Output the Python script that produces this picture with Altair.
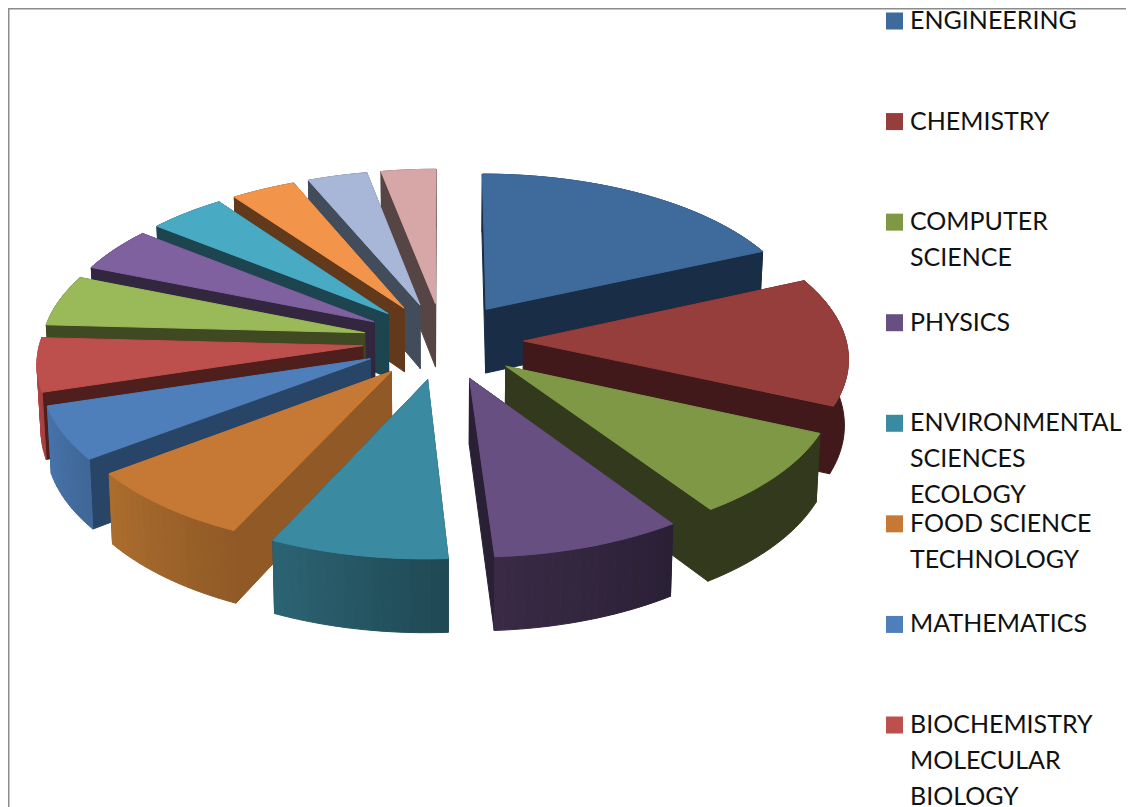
import math
import altair as alt

# shares of the pie, in degrees of the full circle, clockwise from the top
slice_names = ["ENGINEERING", "CHEMISTRY", "COMPUTER SCIENCE", "PHYSICS",
               "ENVIRONMENTAL SCIENCES ECOLOGY", "FOOD SCIENCE TECHNOLOGY",
               "MATHEMATICS", "BIOCHEMISTRY MOLECULAR BIOLOGY",
               "SLICE 9", "SLICE 10", "SLICE 11", "SLICE 12", "SLICE 13", "SLICE 14"]
slice_values = [66, 48, 32, 30.5, 28.5, 28, 20, 20, 19, 16.5, 15.5, 13, 12, 11]

top_colors = ["#3E6A9C", "#963E3C", "#7E9846", "#674F82", "#3A8AA2", "#C67935", "#4F7FBA",
              "#BD504C", "#9AB958", "#7F61A0", "#49AAC4", "#F2954A", "#A8B7D7", "#D7A7A8"]
side_colors = ["#192E46", "#41191A", "#33391D", "#2A2036", "#1F4854", "#905926", "#284466",
               "#4F1F1E", "#3F4A22", "#33263F", "#1C4550", "#63391C", "#434C5B", "#574545"]
rim_low = ["#192E46", "#41191A", "#33391D", "#2A2036", "#1F4854", "#905926", "#3F6897",
           "#A5403F", "#3F4A22", "#33263F", "#1C4550", "#63391C", "#434C5B", "#574545"]
rim_high = ["#192E46", "#41191A", "#33391D", "#3A2A45", "#2C6473", "#AC6E2E", "#4874AC",
            "#BF4F4C", "#3F4A22", "#33263F", "#1C4550", "#63391C", "#434C5B", "#574545"]

legend_labels = ["ENGINEERING", "CHEMISTRY", "COMPUTER\nSCIENCE", "PHYSICS",
                 "ENVIRONMENTAL\nSCIENCES\nECOLOGY", "FOOD SCIENCE\nTECHNOLOGY",
                 "MATHEMATICS", "BIOCHEMISTRY\nMOLECULAR\nBIOLOGY"]
legend_colors = ["#3E6A9C", "#963E3C", "#7E9846", "#674F82", "#3A8AA2", "#C67935", "#4F7FBA", "#BD504C"]

W, H = 1118, 799
CX, CY, A, B, P, EXPLODE, DEPTH, SHRINK = 443.0, 341.0, 322.5, 154.0, 0.096, 0.25, 65.0, 0.99


def page(x, y):
    return [x - 8, y - 8]


def proj(u, v, low=False):
    w = 1 / (1 - P * v)
    if low:
        return page(CX + SHRINK * A * u * w, CY + B * v * w + DEPTH * w)
    return page(CX + A * u * w, CY + B * v * w)


def mix(c1, c2, t):
    a = [int(c1[i:i + 2], 16) for i in (1, 3, 5)]
    b = [int(c2[i:i + 2], 16) for i in (1, 3, 5)]
    return "#%02x%02x%02x" % tuple(round(x + (y - x) * t) for x, y in zip(a, b))


def poly(points, color):
    return {"type": "Feature", "properties": {"color": color},
            "geometry": {"type": "Polygon", "coordinates": [points + [points[0]]]}}


total = sum(slice_values)
slices = []
start = 0.0
for i, val in enumerate(slice_values):
    end = start + val * 360 / total
    slices.append((i, start, end))
    start = end

features = [poly([[0, 0], [W, 0], [W, H], [0, H]], "transparent")]
for i, a0, a1 in sorted(slices, key=lambda s: -abs((s[1] + s[2]) / 2 - 180)):
    mid = math.radians((a0 + a1) / 2)
    ox, oy = EXPLODE * math.sin(mid), -EXPLODE * math.cos(mid)
    n = max(2, int((a1 - a0) / 1.5))
    arc = []
    for k in range(n + 1):
        t = math.radians(a0 + (a1 - a0) * k / n)
        arc.append((ox + math.sin(t), oy - math.cos(t)))
    faces = []
    for p in (arc[0], arc[-1]):
        faces.append(((p[1] + oy) / 2, [proj(ox, oy), proj(*p), proj(*p, True), proj(ox, oy, True)], side_colors[i]))
    if rim_low[i] == rim_high[i]:
        faces.append((oy + 1 if 90 < (a0 + a1) / 2 < 270 else oy - 1,
                      [proj(*p) for p in arc] + [proj(*p, True) for p in reversed(arc)], rim_low[i]))
    else:
        for k in range(n):
            p, q = arc[k], arc[k + 1]
            faces.append(((p[1] + q[1]) / 2, [proj(*p), proj(*q), proj(*q, True), proj(*p, True)],
                          mix(rim_low[i], rim_high[i], (k + .5) / n)))
    for _, pts, col in sorted(faces, key=lambda f: f[0]):
        features.append(poly(pts, col))
    features.append(poly([proj(ox, oy)] + [proj(*p) for p in arc], top_colors[i]))

pie = alt.Chart(alt.Data(values=features)).mark_geoshape(strokeWidth=1, opacity=1).encode(
    fill=alt.Fill("properties.color:N", scale=None),
    stroke=alt.Stroke("properties.color:N", scale=None),
).project(type="identity")

legend_rows = [{"label": l, "color": c, "row": l} for l, c in zip(legend_labels, legend_colors)]
row_y = alt.Y("row:N", sort=legend_labels, axis=None,
              scale=alt.Scale(type="point", range=[13, 717], padding=0))
legend_base = alt.Chart(alt.Data(values=legend_rows))
swatches = legend_base.mark_square(size=289, opacity=1).encode(
    x=alt.value(886.5), y=row_y, color=alt.Color("color:N", scale=None))
labels = legend_base.mark_text(align="left", baseline="alphabetic", font="Lato", fontSize=25,
                               color="#111111", lineBreak="\n", lineHeight=36, dy=8).encode(
    x=alt.value(902), y=row_y, text="label:N")

frame_top = alt.Chart(alt.Data(values=[{"a": 1}])).mark_rule(color="#8c8c8c", strokeWidth=1.5).encode(
    x=alt.value(0), x2=alt.value(W), y=alt.value(0.75))
frame_left = alt.Chart(alt.Data(values=[{"a": 1}])).mark_rule(color="#8c8c8c", strokeWidth=1.5).encode(
    x=alt.value(0.75), y=alt.value(0), y2=alt.value(H))

chart = alt.layer(pie, frame_top, frame_left, swatches, labels).properties(
    width=W, height=H, padding=0, autosize=alt.AutoSizeParams(type="none"),
    background="white").configure_view(stroke=None)
chart.save("out.html", embed_options={"renderer": "svg", "actions": False})
